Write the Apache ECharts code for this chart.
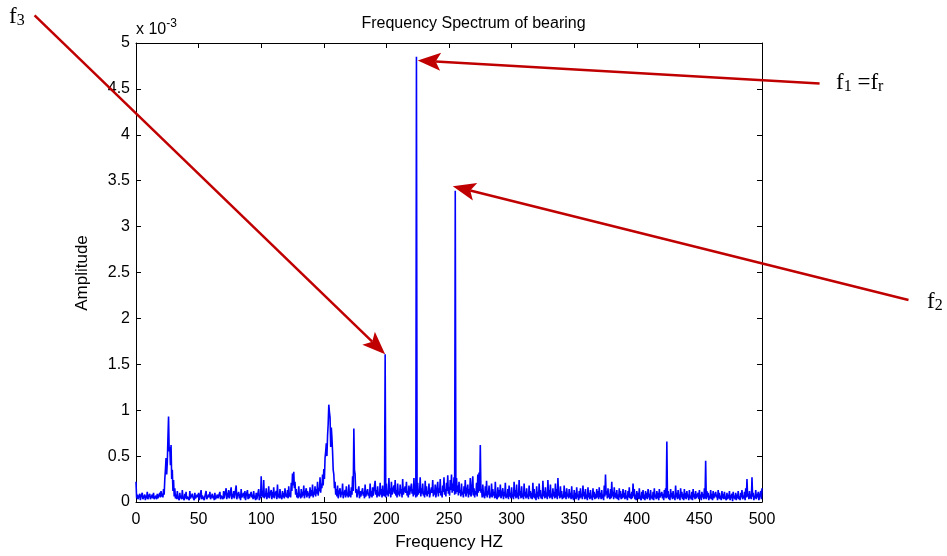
<!DOCTYPE html>
<html>
<head>
<meta charset="utf-8">
<script src="https://cdn.jsdelivr.net/npm/echarts@6/dist/echarts.min.js"></script>
<style>
  html, body { margin: 0; padding: 0; background: #fff; }
  #chart { width: 947px; height: 556px; }
</style>
</head>
<body>
<div id="chart"></div>
<script>
// amplitude in units of 1e-3, one value per whole Hz from 0 to 500
const amp = [
  0.22, 0.08, 0.05, 0.09, 0.06, 0.1, 0.04, 0.08, 0.07, 0.11,
  0.06, 0.09, 0.05, 0.08, 0.1, 0.03, 0.07, 0.09, 0.06, 0.1,
  0.12, 0.09, 0.14, 0.25, 0.48, 0.43, 0.93, 0.6, 0.62, 0.35,
  0.24, 0.15, 0.08, 0.12, 0.06, 0.1, 0.07, 0.13, 0.05, 0.09,
  0.11, 0.06, 0.08, 0.12, 0.05, 0.09, 0.07, 0.1, 0.06, 0.08,
  0.1, 0.05, 0.13, 0.07, 0.09, 0.06, 0.12, 0.04, 0.08, 0.11,
  0.05, 0.09, 0.07, 0.1, 0.04, 0.08, 0.06, 0.11, 0.07, 0.09,
  0.12, 0.08, 0.15, 0.1, 0.13, 0.07, 0.16, 0.09, 0.12, 0.08,
  0.18, 0.07, 0.11, 0.09, 0.14, 0.06, 0.1, 0.12, 0.07, 0.13,
  0.09, 0.06, 0.11, 0.08, 0.12, 0.07, 0.1, 0.05, 0.14, 0.08,
  0.28, 0.12, 0.24, 0.09, 0.15, 0.1, 0.17, 0.08, 0.13, 0.11,
  0.16, 0.08, 0.12, 0.19, 0.09, 0.14, 0.07, 0.12, 0.1, 0.15,
  0.09, 0.13, 0.17, 0.1, 0.21, 0.31, 0.33, 0.22, 0.14, 0.1,
  0.17, 0.09, 0.14, 0.11, 0.18, 0.08, 0.15, 0.12, 0.1, 0.16,
  0.13, 0.19, 0.11, 0.17, 0.14, 0.22, 0.15, 0.27, 0.2, 0.3,
  0.36, 0.48, 0.64, 0.72, 1.06, 0.92, 0.81, 0.55, 0.3, 0.22,
  0.14, 0.18, 0.09, 0.15, 0.11, 0.2, 0.08, 0.13, 0.17, 0.1,
  0.19, 0.12, 0.16, 0.28, 0.8, 0.3, 0.14, 0.09, 0.17, 0.12,
  0.08, 0.15, 0.11, 0.19, 0.07, 0.14, 0.1, 0.2, 0.12, 0.16,
  0.09, 0.23, 0.13, 0.17, 0.1, 0.21, 0.14, 0.18, 0.11, 1.61,
  0.2, 0.12, 0.26, 0.15, 0.22, 0.1, 0.18, 0.24, 0.13, 0.2,
  0.11, 0.19, 0.14, 0.25, 0.1, 0.17, 0.22, 0.12, 0.18, 0.09,
  0.2, 0.14, 0.26, 0.16, 4.85, 0.21, 0.13, 0.27, 0.15, 0.2,
  0.11, 0.23, 0.17, 0.12, 0.2, 0.09, 0.16, 0.24, 0.13, 0.19,
  0.1, 0.22, 0.15, 0.25, 0.12, 0.18, 0.27, 0.14, 0.21, 0.29,
  0.16, 0.24, 0.3, 0.2, 0.27, 3.39, 0.26, 0.18, 0.22, 0.13,
  0.2, 0.11, 0.17, 0.24, 0.1, 0.19, 0.14, 0.26, 0.09, 0.28,
  0.15, 0.12, 0.21, 0.3, 0.32, 0.62, 0.14, 0.19, 0.1, 0.17,
  0.23, 0.12, 0.18, 0.09, 0.2, 0.14, 0.11, 0.22, 0.08, 0.16,
  0.13, 0.19, 0.07, 0.15, 0.11, 0.21, 0.09, 0.14, 0.18, 0.1,
  0.16, 0.08, 0.22, 0.13, 0.19, 0.1, 0.24, 0.12, 0.17, 0.09,
  0.2, 0.11, 0.15, 0.08, 0.18, 0.12, 0.1, 0.21, 0.14, 0.09,
  0.17, 0.11, 0.2, 0.13, 0.08, 0.23, 0.12, 0.16, 0.1, 0.24,
  0.13, 0.19, 0.09, 0.15, 0.11, 0.2, 0.14, 0.26, 0.1, 0.17,
  0.12, 0.08, 0.18, 0.11, 0.15, 0.09, 0.14, 0.1, 0.17, 0.07,
  0.13, 0.1, 0.16, 0.08, 0.12, 0.15, 0.09, 0.18, 0.11, 0.14,
  0.08, 0.16, 0.1, 0.13, 0.07, 0.15, 0.11, 0.09, 0.14, 0.12,
  0.16, 0.1, 0.13, 0.08, 0.18, 0.3, 0.12, 0.15, 0.09, 0.14,
  0.22, 0.11, 0.16, 0.1, 0.13, 0.08, 0.15, 0.12, 0.09, 0.14,
  0.1, 0.13, 0.07, 0.12, 0.16, 0.09, 0.11, 0.2, 0.14, 0.08,
  0.12, 0.1, 0.15, 0.07, 0.11, 0.13, 0.08, 0.12, 0.1, 0.14,
  0.09, 0.13, 0.07, 0.11, 0.15, 0.08, 0.12, 0.1, 0.14, 0.06,
  0.11, 0.09, 0.13, 0.15, 0.66, 0.12, 0.08, 0.14, 0.1, 0.12,
  0.07, 0.18, 0.1, 0.13, 0.08, 0.15, 0.11, 0.09, 0.14, 0.1,
  0.12, 0.08, 0.13, 0.07, 0.11, 0.14, 0.09, 0.12, 0.06, 0.1,
  0.13, 0.08, 0.11, 0.09, 0.15, 0.45, 0.12, 0.1, 0.07, 0.13,
  0.09, 0.12, 0.06, 0.11, 0.08, 0.13, 0.1, 0.07, 0.12, 0.09,
  0.11, 0.06, 0.1, 0.08, 0.12, 0.05, 0.09, 0.11, 0.07, 0.1,
  0.08, 0.12, 0.06, 0.1, 0.13, 0.07, 0.11, 0.15, 0.25, 0.09,
  0.12, 0.08, 0.27, 0.1, 0.07, 0.13, 0.09, 0.11, 0.06, 0.12,
  0.15
];
// amplitude at the half-Hz points 0.5 .. 499.5 (the dips between the whole-Hz values)
const ampHalf = [
  0.04, 0.03, 0.05, 0.02, 0.04, 0.03, 0.05, 0.02, 0.04, 0.03,
  0.05, 0.03, 0.02, 0.04, 0.03, 0.05, 0.03, 0.04, 0.02, 0.05,
  0.06, 0.05, 0.08, 0.35, 0.3, 0.7, 0.55, 0.4, 0.25, 0.12,
  0.06, 0.04, 0.03, 0.05, 0.02, 0.04, 0.03, 0.05, 0.02, 0.04,
  0.03, 0.05, 0.02, 0.04, 0.03, 0.05, 0.02, 0.04, 0.03, 0.05,
  0.02, 0.04, 0.03, 0.05, 0.02, 0.04, 0.03, 0.02, 0.05, 0.03,
  0.02, 0.04, 0.02, 0.03, 0.01, 0.04, 0.02, 0.03, 0.05, 0.03,
  0.04, 0.06, 0.03, 0.05, 0.04, 0.06, 0.03, 0.05, 0.04, 0.06,
  0.03, 0.05, 0.04, 0.02, 0.05, 0.03, 0.04, 0.02, 0.05, 0.03,
  0.04, 0.02, 0.05, 0.03, 0.04, 0.02, 0.03, 0.05, 0.02, 0.04,
  0.06, 0.05, 0.04, 0.06, 0.03, 0.05, 0.04, 0.06, 0.03, 0.05,
  0.04, 0.06, 0.03, 0.05, 0.04, 0.06, 0.03, 0.05, 0.04, 0.06,
  0.05, 0.04, 0.06, 0.05, 0.12, 0.18, 0.15, 0.08, 0.05, 0.04,
  0.06, 0.04, 0.05, 0.07, 0.04, 0.06, 0.05, 0.07, 0.04, 0.06,
  0.07, 0.05, 0.08, 0.06, 0.09, 0.07, 0.12, 0.1, 0.15, 0.18,
  0.25, 0.55, 0.5, 0.85, 0.98, 0.6, 0.7, 0.35, 0.15, 0.08,
  0.06, 0.04, 0.07, 0.05, 0.08, 0.04, 0.06, 0.05, 0.07, 0.05,
  0.06, 0.05, 0.08, 0.12, 0.35, 0.1, 0.05, 0.07, 0.04, 0.06,
  0.05, 0.07, 0.04, 0.06, 0.05, 0.07, 0.04, 0.06, 0.05, 0.07,
  0.06, 0.08, 0.05, 0.07, 0.06, 0.08, 0.05, 0.07, 0.06, 0.05,
  0.08, 0.06, 0.09, 0.05, 0.08, 0.06, 0.09, 0.07, 0.05, 0.08,
  0.06, 0.09, 0.05, 0.08, 0.06, 0.1, 0.07, 0.05, 0.08, 0.06,
  0.09, 0.06, 0.08, 0.05, 0.06, 0.08, 0.1, 0.06, 0.09, 0.07,
  0.05, 0.08, 0.06, 0.09, 0.05, 0.07, 0.1, 0.06, 0.08, 0.05,
  0.09, 0.06, 0.1, 0.07, 0.05, 0.11, 0.08, 0.06, 0.12, 0.09,
  0.07, 0.13, 0.1, 0.12, 0.08, 0.09, 0.11, 0.07, 0.1, 0.06,
  0.08, 0.05, 0.09, 0.06, 0.1, 0.05, 0.08, 0.06, 0.09, 0.07,
  0.05, 0.08, 0.06, 0.1, 0.12, 0.1, 0.05, 0.08, 0.04, 0.07,
  0.05, 0.08, 0.04, 0.06, 0.05, 0.07, 0.04, 0.06, 0.03, 0.05,
  0.06, 0.04, 0.05, 0.03, 0.06, 0.04, 0.05, 0.03, 0.06, 0.04,
  0.05, 0.03, 0.06, 0.04, 0.05, 0.03, 0.07, 0.04, 0.05, 0.03,
  0.06, 0.04, 0.05, 0.03, 0.06, 0.04, 0.03, 0.05, 0.04, 0.02,
  0.05, 0.03, 0.06, 0.04, 0.03, 0.06, 0.04, 0.05, 0.03, 0.06,
  0.04, 0.05, 0.03, 0.06, 0.04, 0.05, 0.03, 0.07, 0.04, 0.05,
  0.03, 0.04, 0.05, 0.03, 0.06, 0.04, 0.05, 0.03, 0.04, 0.02,
  0.04, 0.03, 0.05, 0.02, 0.04, 0.05, 0.03, 0.06, 0.03, 0.04,
  0.02, 0.05, 0.03, 0.04, 0.02, 0.05, 0.03, 0.04, 0.05, 0.03,
  0.05, 0.03, 0.04, 0.02, 0.06, 0.08, 0.04, 0.05, 0.03, 0.04,
  0.06, 0.03, 0.05, 0.04, 0.03, 0.02, 0.05, 0.03, 0.04, 0.05,
  0.03, 0.04, 0.02, 0.05, 0.04, 0.03, 0.04, 0.06, 0.03, 0.02,
  0.04, 0.03, 0.05, 0.02, 0.04, 0.03, 0.02, 0.04, 0.03, 0.05,
  0.02, 0.04, 0.03, 0.02, 0.05, 0.03, 0.04, 0.02, 0.05, 0.03,
  0.04, 0.02, 0.05, 0.04, 0.05, 0.03, 0.02, 0.05, 0.03, 0.04,
  0.02, 0.05, 0.03, 0.04, 0.02, 0.05, 0.03, 0.02, 0.04, 0.03,
  0.05, 0.02, 0.04, 0.03, 0.02, 0.05, 0.03, 0.04, 0.02, 0.03,
  0.04, 0.02, 0.05, 0.03, 0.04, 0.03, 0.05, 0.02, 0.04, 0.03,
  0.02, 0.04, 0.03, 0.05, 0.02, 0.04, 0.03, 0.02, 0.04, 0.03,
  0.05, 0.02, 0.03, 0.04, 0.02, 0.03, 0.01, 0.04, 0.03, 0.02,
  0.04, 0.03, 0.02, 0.05, 0.03, 0.04, 0.02, 0.05, 0.06, 0.03,
  0.04, 0.03, 0.06, 0.02, 0.04, 0.03, 0.05, 0.02, 0.04, 0.03
];
const freqStep = 1; // Hz between whole samples

const xTicks = [0, 50, 100, 150, 200, 250, 300, 350, 400, 450, 500];
const yTicks = [0, 0.5, 1, 1.5, 2, 2.5, 3, 3.5, 4, 4.5, 5];

// annotation arrows, [tail, head] in data units (Hz, 1e-3)
const arrowF1 = [[546, 4.56], [225, 4.81]];
const arrowF2 = [[617, 2.2], [253, 3.44]];
const arrowF3 = [[-81, 5.3], [199, 1.61]];

const seriesData = [];
amp.forEach((v, i) => {
  seriesData.push([i * freqStep, v]);
  if (i < ampHalf.length) seriesData.push([(i + 0.5) * freqStep, ampHalf[i]]);
});

const chart = echarts.init(document.getElementById('chart'));
const font = 'Liberation Sans, Arial, sans-serif';
const axisCommon = {
  min: 0,
  axisLine: { show: true, onZero: false, lineStyle: { color: '#000', width: 1 } },
  axisTick: { show: true, inside: true, length: 5, lineStyle: { color: '#000' } },
  splitLine: { show: false }
};

const option = {
  animation: false,
  backgroundColor: '#fff',
  title: {
    text: 'Frequency Spectrum of bearing',
    left: 'center',
    top: 11,
    textStyle: { fontFamily: font, fontSize: 16, fontWeight: 'normal', color: '#000' }
  },
  grid: { left: 136, right: 185, top: 43, bottom: 53 },
  xAxis: [
    Object.assign({}, axisCommon, {
      type: 'value', max: 500, interval: 50, position: 'bottom',
      name: 'Frequency HZ', nameLocation: 'middle', nameGap: 32,
      nameTextStyle: { fontFamily: font, fontSize: 17, color: '#000' },
      axisLabel: { fontFamily: font, fontSize: 16, color: '#000', margin: 10,
        formatter: v => xTicks.includes(v) ? String(v) : '' }
    }),
    Object.assign({}, axisCommon, {
      type: 'value', max: 500, interval: 50, position: 'top',
      axisLabel: { show: false }
    })
  ],
  yAxis: [
    Object.assign({}, axisCommon, {
      type: 'value', max: 5, interval: 0.5, position: 'left',
      name: 'x 10{sup|-3}', nameLocation: 'end', nameGap: 1,
      nameTextStyle: { fontFamily: font, fontSize: 16, color: '#000', align: 'left',
        rich: { sup: { fontFamily: font, fontSize: 12, color: '#000', verticalAlign: 'top', padding: [0, 0, 12, 0] } } },
      axisLabel: { fontFamily: font, fontSize: 16, color: '#000', margin: 6,
        formatter: v => yTicks.includes(v) ? String(v) : '' }
    }),
    Object.assign({}, axisCommon, {
      type: 'value', max: 5, interval: 0.5, position: 'right',
      axisLabel: { show: false }
    })
  ],
  series: [{
    type: 'line',
    data: seriesData,
    symbol: 'none',
    sampling: null,
    lineStyle: { color: '#0000ff', width: 1.6 },
    itemStyle: { color: '#0000ff' },
    clip: true
  }]
};

chart.setOption(option);

function arrow(pair) {
  const p0 = chart.convertToPixel({ gridIndex: 0 }, pair[0]);
  const p1 = chart.convertToPixel({ gridIndex: 0 }, pair[1]);
  const dx = p1[0] - p0[0], dy = p1[1] - p0[1];
  const len = Math.sqrt(dx * dx + dy * dy);
  const ux = dx / len, uy = dy / len;
  const headL = 23, headW = 9;
  const bx = p1[0] - ux * headL, by = p1[1] - uy * headL;
  return [
    { type: 'line', shape: { x1: p0[0], y1: p0[1], x2: bx + ux * 5, y2: by + uy * 5 },
      style: { stroke: '#c00000', lineWidth: 2.5 }, z: 100 },
    { type: 'polygon', shape: { points: [
      [p1[0], p1[1]],
      [bx - uy * headW, by + ux * headW],
      [bx + ux * 5, by + uy * 5],
      [bx + uy * headW, by - ux * headW]
    ] }, style: { fill: '#c00000' }, z: 101 }
  ];
}

const serif = 'Liberation Serif, Times New Roman, serif';
const sub = {
  m: { font: '23px ' + serif, fill: '#000' },
  s: { font: '16px ' + serif, fill: '#000', padding: [9, 0, 0, 0] }
};
const labels = [
  { type: 'text', x: 9, y: 4, z: 102, style: { text: '{m|f}{s|3}', rich: sub } },
  { type: 'text', x: 836, y: 70, z: 102, style: { text: '{m|f}{s|1}{m| =f}{s|r}', rich: sub } },
  { type: 'text', x: 927, y: 289, z: 102, style: { text: '{m|f}{s|2}', rich: sub } }
];

chart.setOption({
  graphic: [
    { type: 'text', x: 82, y: 273, rotation: Math.PI / 2, style: {
      text: 'Amplitude', font: '17px ' + font, fill: '#000', textAlign: 'center', textVerticalAlign: 'middle' } }
  ].concat(arrow(arrowF1), arrow(arrowF2), arrow(arrowF3), labels)
});
</script>
</body>
</html>
